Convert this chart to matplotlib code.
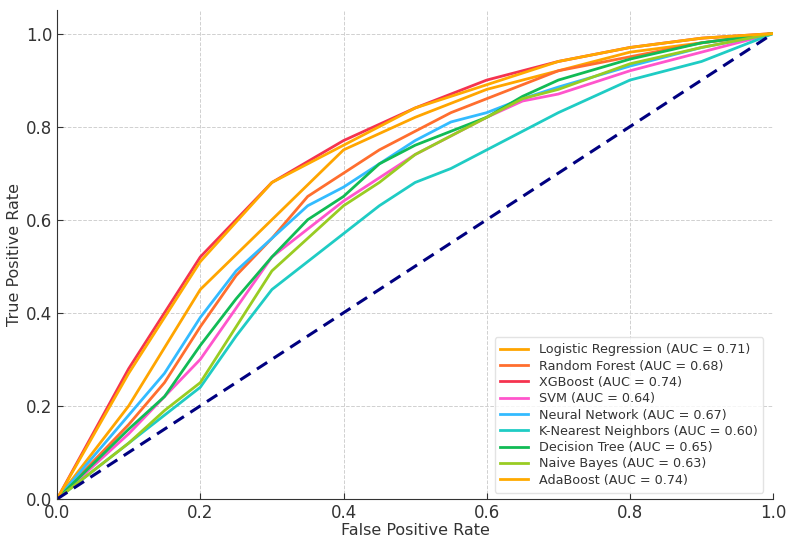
import matplotlib
matplotlib.use("Agg")
import matplotlib.pyplot as plt

models = ["Logistic Regression", "Random Forest", "XGBoost", "SVM", "Neural Network",
          "K-Nearest Neighbors", "Decision Tree", "Naive Bayes", "AdaBoost"]
aucs = [0.71, 0.68, 0.74, 0.64, 0.67, 0.60, 0.65, 0.63, 0.74]
colors = ["#FFA500", "#FF6E2E", "#F5334F", "#FF55CC", "#33BBFF",
          "#1FCCC4", "#11BB55", "#99CC22", "#FFAA00"]

fpr_coarse = [0, 0.1, 0.2, 0.3, 0.4, 0.5, 0.6, 0.7, 0.8, 0.9, 1.0]
fpr_fine = [0, 0.1, 0.15, 0.2, 0.25, 0.3, 0.35, 0.4, 0.45, 0.5, 0.55, 0.6, 0.65, 0.7, 0.8, 0.9, 1.0]

tpr_lr = [0, 0.20, 0.45, 0.60, 0.75, 0.82, 0.88, 0.92, 0.96, 0.98, 1.0]
tpr_rf = [0, 0.16, 0.25, 0.37, 0.48, 0.56, 0.65, 0.70, 0.75, 0.79, 0.83, 0.86, 0.89, 0.92, 0.95, 0.98, 1.0]
tpr_xgb = [0, 0.28, 0.52, 0.68, 0.77, 0.84, 0.90, 0.94, 0.97, 0.99, 1.0]
tpr_svm = [0, 0.14, 0.22, 0.30, 0.41, 0.52, 0.58, 0.64, 0.69, 0.74, 0.78, 0.82, 0.855, 0.87, 0.92, 0.96, 1.0]
tpr_nn = [0, 0.18, 0.27, 0.39, 0.49, 0.56, 0.63, 0.67, 0.72, 0.77, 0.81, 0.83, 0.86, 0.885, 0.93, 0.97, 1.0]
tpr_knn = [0, 0.12, 0.18, 0.24, 0.35, 0.45, 0.51, 0.57, 0.63, 0.68, 0.71, 0.75, 0.79, 0.83, 0.90, 0.94, 1.0]
tpr_dt = [0, 0.15, 0.22, 0.33, 0.43, 0.52, 0.60, 0.65, 0.72, 0.76, 0.79, 0.82, 0.865, 0.90, 0.945, 0.98, 1.0]
tpr_nb = [0, 0.12, 0.19, 0.25, 0.37, 0.49, 0.56, 0.63, 0.68, 0.74, 0.78, 0.82, 0.86, 0.88, 0.935, 0.97, 1.0]
tpr_ada = [0, 0.27, 0.51, 0.68, 0.76, 0.84, 0.89, 0.94, 0.97, 0.99, 1.0]

series = [
    (fpr_coarse, tpr_lr), (fpr_fine, tpr_rf), (fpr_coarse, tpr_xgb),
    (fpr_fine, tpr_svm), (fpr_fine, tpr_nn), (fpr_fine, tpr_knn),
    (fpr_fine, tpr_dt), (fpr_fine, tpr_nb), (fpr_coarse, tpr_ada),
]

plt.rcParams['font.family'] = ['DejaVu Sans']
fig = plt.figure(figsize=(7.93, 5.40), dpi=100)
ax = fig.add_axes([0.072, 0.076, 0.903, 0.905])

for (x, y), name, auc, c in zip(series, models, aucs, colors):
    ax.plot(x, y, color=c, lw=2, label=f"{name} (AUC = {auc:.2f})")

ax.plot([0, 1], [0, 1], color="navy", lw=2.2, linestyle="--", dashes=(4, 2.5))

ax.set_xlim(0, 1)
ax.set_ylim(0, 1.05)
ax.set_xticks([0, 0.2, 0.4, 0.6, 0.8, 1.0])
ax.set_yticks([0, 0.2, 0.4, 0.6, 0.8, 1.0])
ax.tick_params(direction="in", labelsize=12, colors="#333333", length=4)
ax.set_xlabel("False Positive Rate", fontsize=11.5, color="#333333", labelpad=1)
ax.set_ylabel("True Positive Rate", fontsize=11.5, color="#333333", labelpad=3)
ax.grid(True, linestyle="--", color="#d0d0d0", lw=0.7)
for s in ["top", "right"]:
    ax.spines[s].set_visible(False)
for s in ["left", "bottom"]:
    ax.spines[s].set_color("#333333")

leg = ax.legend(loc="lower right", fontsize=9.2, frameon=True, handlelength=2.2,
                labelspacing=0.26, borderpad=0.45, fancybox=True,
                bbox_to_anchor=(0.995, 0.0))
for t in leg.get_texts():
    t.set_color("#333333")
leg.get_frame().set_edgecolor("#dddddd")

fig.savefig("out.png", dpi=100)
